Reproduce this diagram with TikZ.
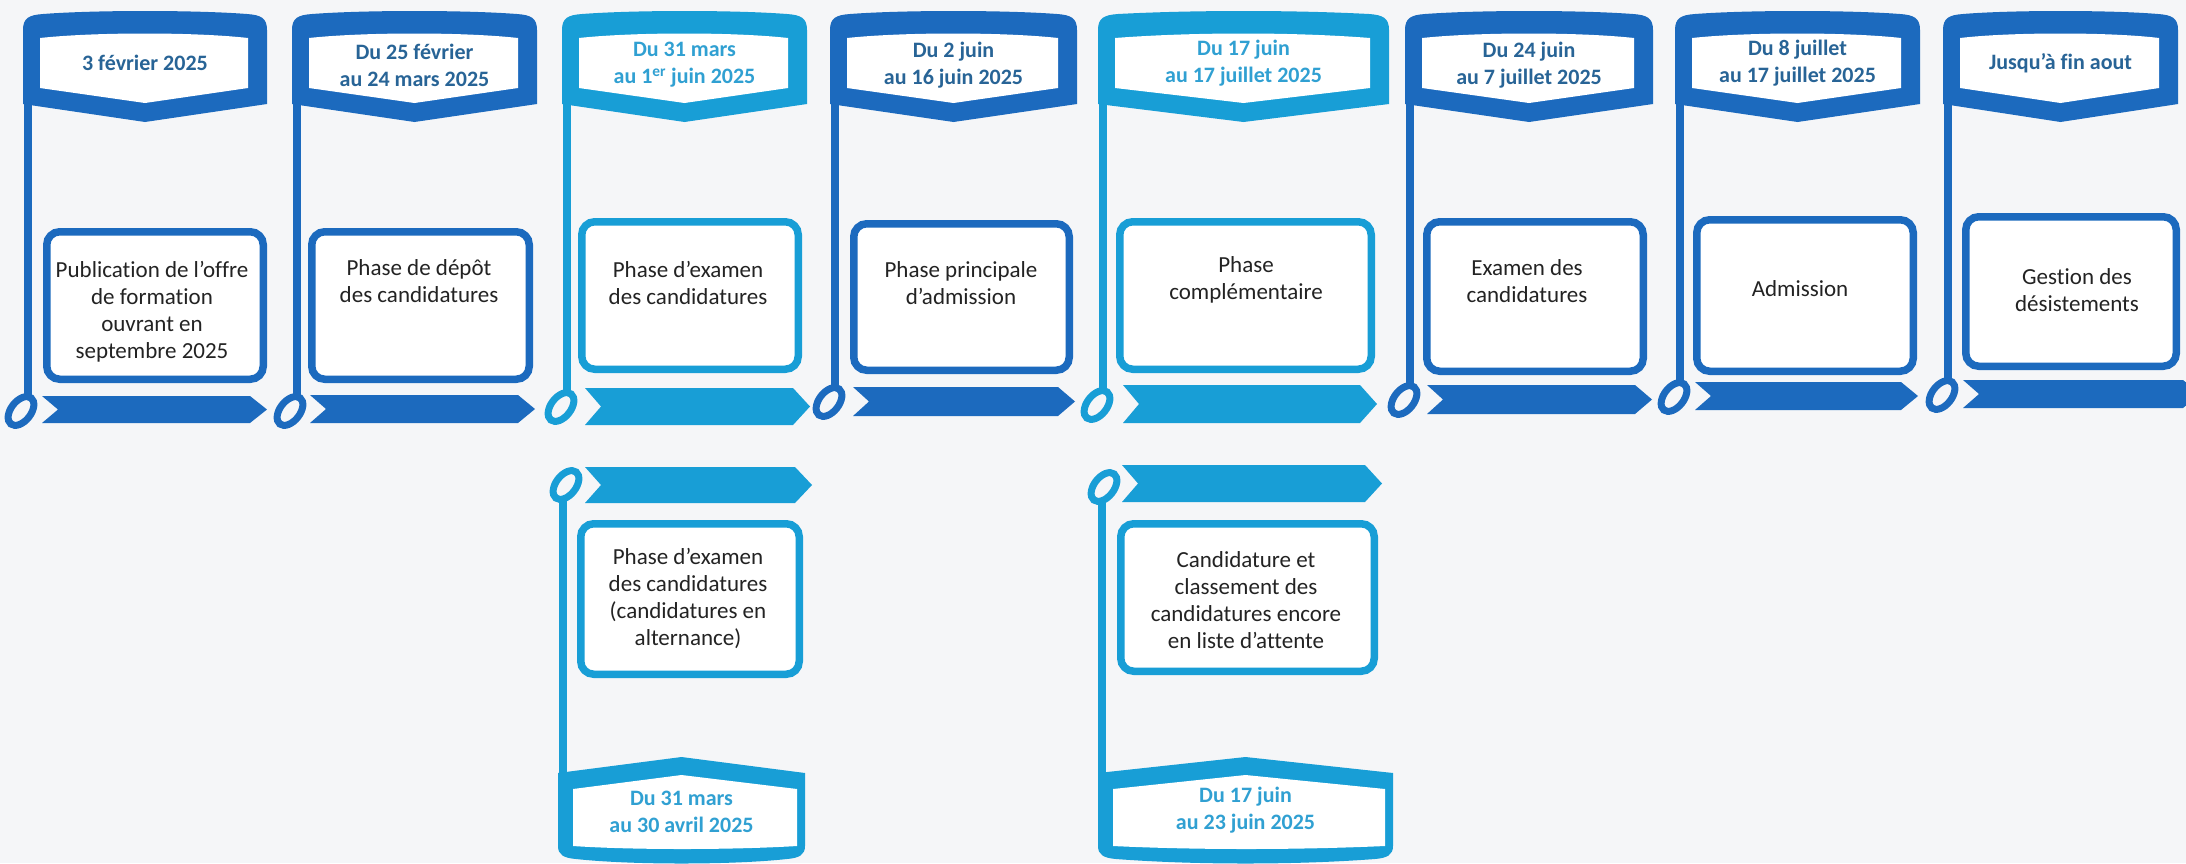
\documentclass[tikz,border=0pt]{standalone}
\usepackage{fontspec}
\setmainfont[Ligatures=NoCommon]{Carlito}
\definecolor{dkb}{RGB}{28,106,190}
\definecolor{ltb}{RGB}{24,158,214}
\definecolor{dkt}{RGB}{40,100,150}
\definecolor{ltt}{RGB}{48,160,210}
\definecolor{bodyt}{RGB}{35,35,35}
\definecolor{bgc}{RGB}{245,246,248}
% top flag: L R colour
\newcommand\flagtop[3]{%
  \pgfmathsetmacro\fm{(#1+#2)/2}%
  \fill[#3] (#1,104) -- (#1,30) .. controls (#1,18) and (#1+6,15) .. (#1+20,14) .. controls (\fm-50,10) and (\fm+50,10) .. (#2-20,14) .. controls (#2-6,15) and (#2,18) .. (#2,30) -- (#2,104) -- (\fm,122) -- cycle;
  \fill[white] (#1+17,38) .. controls (\fm-50,32) and (\fm+50,32) .. (#2-19,38) -- (#2-19,88) -- (\fm,103) -- (#1+17,88) -- cycle;
}
% bottom flag: L R colour
\newcommand\flagbot[3]{%
  \pgfmathsetmacro\fm{(#1+#2)/2}%
  \fill[#3] (#1,773) -- (\fm,757) -- (#2,773) -- (#2,846) .. controls (#2,855) and (#2-6,858) .. (#2-18,859) .. controls (\fm+50,865) and (\fm-50,865) .. (#1+18,859) .. controls (#1+6,858) and (#1,855) .. (#1,846) -- cycle;
  \fill[white] (#1+15,789) -- (\fm,775) -- (#2-8,789) -- (#2-8,846) .. controls (\fm+50,850) and (\fm-50,850) .. (#1+15,846) -- cycle;
}
% chevron bar: aL aR aT aB colour
\newcommand\chev[5]{%
  \fill[#5] (#1,#3) -- (#2-17,#3) -- (#2,{(#3+#4)/2}) -- (#2-17,#4) -- (#1,#4) -- (#1+16,{(#3+#4)/2}) -- cycle;}
% ring: cx cy colour
\newcommand\ringat[3]{\draw[#3,line width=7] (#1,#2) ellipse [x radius=16.5, y radius=10, rotate=52];}
% pole: x y1 y2 colour
\newcommand\pole[4]{\draw[#4,line width=8] (#1,#2) -- (#1,#3);}
% box: name bL bT bR bB colour
\newcommand\pbox[6]{\node[phasebox=#6, minimum width={#4-#2-7.5}, minimum height={#5-#3-7.5}] (#1) at ({(#2+#4)/2},{(#3+#5)/2}) {};}
\begin{document}
\begin{tikzpicture}[x=1pt,y=-1pt,
  phasebox/.style={draw=#1, line width=7.5, rounded corners=13, fill=white, inner sep=0pt, outer sep=0pt},
  datetxt/.style={font=\fontsize{22}{27}\selectfont\bfseries, align=center, inner sep=0pt, text=#1},
  bodytxt/.style={font=\fontsize{23}{27}\selectfont, align=center, text=bodyt, inner sep=0pt}]
\useasboundingbox (0,0) rectangle (2186,863);
\fill[bgc] (0,0) rectangle (2186,863);

% ---- column 1
\flagtop{23}{267}{dkb}
\pole{28}{100}{398}{dkb}
\ringat{21}{411}{dkb}
\chev{42}{267}{396}{423}{dkb}
\pbox{b1}{43}{228}{267}{383}{dkb}
\node[datetxt=dkt] (d1) at (145,63) {3 février 2025};
\node[bodytxt] (t1) at (152,312) {Publication de l’offre\\de formation\\ouvrant en\\septembre 2025};

% ---- column 2
\flagtop{292}{537}{dkb}
\pole{297}{100}{398}{dkb}
\ringat{290}{411}{dkb}
\chev{310}{535}{395}{423}{dkb}
\pbox{b2}{308}{228}{533}{383}{dkb}
\node[datetxt=dkt] (d2) at (414.5,65) {Du 25 février\\au 24 mars 2025};
\node[bodytxt] (t2) at (419,281) {Phase de dépôt\\des candidatures};

% ---- column 3
\flagtop{562}{807}{ltb}
\pole{567}{100}{394}{ltb}
\ringat{561}{407}{ltb}
\chev{585}{810}{388}{425}{ltb}
\pbox{b3}{578}{218}{802}{373}{ltb}
\node[datetxt=ltt] (d3) at (684.5,65) {Du 31 mars\\au 1\textsuperscript{er} juin 2025};
\node[bodytxt] (t3) at (688,283) {Phase d’examen\\des candidatures};
% lower part of column 3
\ringat{566}{485}{ltb}
\pole{563}{496}{776}{ltb}
\chev{585}{812}{467}{503}{ltb}
\pbox{b3b}{577}{520}{803}{678}{ltb}
\flagbot{558}{805}{ltb}
\node[bodytxt] (t3b) at (688,598) {Phase d’examen\\des candidatures\\(candidatures en\\alternance)};
\node[datetxt=ltt] (d3b) at (681.5,812) {Du 31 mars\\au 30 avril 2025};

% ---- column 4
\flagtop{830}{1077}{dkb}
\pole{835}{100}{389}{dkb}
\ringat{829}{402}{dkb}
\chev{853}{1075}{387}{416}{dkb}
\pbox{b4}{850}{220}{1073}{374}{dkb}
\node[datetxt=dkt] (d4) at (953.5,65) {Du 2 juin\\au 16 juin 2025};
\node[bodytxt] (t4) at (961,283) {Phase principale\\d’admission};

% ---- column 5
\flagtop{1098}{1389}{ltb}
\pole{1103}{100}{392}{ltb}
\ringat{1097}{405}{ltb}
\chev{1123}{1377}{385}{423}{ltb}
\pbox{b5}{1116}{218}{1375}{373}{ltb}
\node[datetxt=ltt] (d5) at (1243.5,63) {Du 17 juin\\au 17 juillet 2025};
\node[bodytxt] (t5) at (1246,280) {Phase\\complémentaire};
% lower part of column 5
\ringat{1104}{487}{ltb}
\pole{1102}{498}{776}{ltb}
\chev{1122}{1382}{465}{502}{ltb}
\pbox{b5b}{1117}{520}{1378}{675}{ltb}
\flagbot{1098}{1393}{ltb}
\node[bodytxt] (t5b) at (1246,600) {Candidature et\\classement des\\candidatures encore\\en liste d’attente};
\node[datetxt=ltt] (d5b) at (1245.5,810) {Du 17 juin\\au 23 juin 2025};

% ---- column 6
\flagtop{1405}{1653}{dkb}
\pole{1410}{100}{387}{dkb}
\ringat{1404}{400}{dkb}
\chev{1427}{1652}{385}{414}{dkb}
\pbox{b6}{1423}{218}{1647}{375}{dkb}
\node[datetxt=dkt] (d6) at (1529,65) {Du 24 juin\\au 7 juillet 2025};
\node[bodytxt] (t6) at (1527,281) {Examen des\\candidatures};

% ---- column 7
\flagtop{1675}{1920}{dkb}
\pole{1680}{100}{384}{dkb}
\ringat{1674}{397}{dkb}
\chev{1695}{1918}{382}{410}{dkb}
\pbox{b7}{1693}{216}{1917}{375}{dkb}
\node[datetxt=dkt] (d7) at (1797.5,63) {Du 8 juillet\\au 17 juillet 2025};
\node[bodytxt] (t7) at (1800,289) {Admission};

% ---- column 8
\flagtop{1943}{2178}{dkb}
\pole{1948}{100}{382}{dkb}
\ringat{1942}{395}{dkb}
\chev{1963}{2200}{380}{408}{dkb}
\pbox{b8}{1962}{213}{2180}{370}{dkb}
\node[datetxt=dkt] (d8) at (2060.5,63) {Jusqu’à fin aout};
\node[bodytxt] (t8) at (2077,290) {Gestion des\\désistements};
\end{tikzpicture}
\end{document}
